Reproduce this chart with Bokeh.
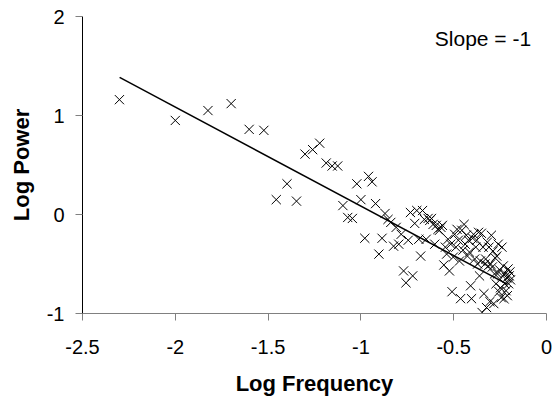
from bokeh.plotting import figure
from bokeh.models import FixedTicker, Range1d, Label, ColumnDataSource
from bokeh.embed import file_html
from bokeh.resources import INLINE

# Log frequency values of the spectrum points
log_freq = [
    -2.301, -2.000, -1.824, -1.699, -1.602, -1.523, -1.456, -1.398, -1.347, -1.301,
    -1.260, -1.222, -1.187, -1.155, -1.125, -1.097, -1.071, -1.046, -1.022, -1.000,
    -0.979, -0.959, -0.940, -0.921, -0.903, -0.886, -0.870, -0.854, -0.839, -0.824,
    -0.810, -0.796, -0.783, -0.770, -0.757, -0.745, -0.733, -0.721, -0.710, -0.699,
    -0.688, -0.678, -0.668, -0.658, -0.648, -0.638, -0.629, -0.620, -0.611, -0.602,
    -0.594, -0.585, -0.577, -0.569, -0.561, -0.553, -0.545, -0.538, -0.530, -0.523,
    -0.516, -0.509, -0.502, -0.495, -0.488, -0.482, -0.475, -0.469, -0.463, -0.456,
    -0.450, -0.444, -0.438, -0.432, -0.426, -0.420, -0.415, -0.409, -0.404, -0.398,
    -0.393, -0.387, -0.381, -0.376, -0.371, -0.366, -0.361, -0.356, -0.351, -0.347,
    -0.342, -0.337, -0.332, -0.328, -0.323, -0.319, -0.314, -0.310, -0.305, -0.301,
    -0.297, -0.292, -0.288, -0.284, -0.280, -0.276, -0.272, -0.268, -0.264, -0.260,
    -0.256, -0.252, -0.248, -0.244, -0.240, -0.237, -0.233, -0.229, -0.225, -0.222,
    -0.218, -0.214, -0.211, -0.207, -0.204, -0.201, -0.197, -0.194,
]

# Log power values
log_power = [
    1.16, 0.95, 1.05, 1.12, 0.86, 0.85, 0.15, 0.31, 0.135, 0.61,
    0.655, 0.72, 0.52, 0.49, 0.49, 0.09, -0.03, -0.04, 0.31, 0.15,
    -0.24, 0.385, 0.33, 0.11, -0.40, -0.24, 0.01, -0.05, -0.08, -0.32,
    -0.13, -0.30, -0.20, -0.57, -0.69, -0.26, 0.02, -0.62, -0.09, 0.04,
    -0.25, -0.42, 0.04, -0.05, -0.25, -0.04, -0.06, -0.04, -0.10, -0.30,
    -0.11, -0.15, -0.16, -0.13, -0.11, -0.51, -0.33, -0.40, -0.25, -0.57,
    -0.30, -0.78, -0.43, -0.20, -0.33, -0.15, -0.26, -0.47, -0.85, -0.16,
    -0.36, -0.10, -0.30, -0.21, -0.42, -0.26, -0.38, -0.72, -0.85, -0.24,
    -0.20, -0.45, -0.33, -0.26, -0.50, -0.18, -0.62, -0.47, -0.19, -0.99,
    -0.33, -0.80, -0.50, -0.45, -0.94, -0.28, -0.52, -0.33, -0.88, -0.50,
    -0.21, -0.53, -0.37, -0.90, -0.60, -0.44, -0.70, -0.42, -0.60, -0.30,
    -0.78, -0.56, -0.74, -0.84, -0.33, -0.62, -0.52, -0.85, -0.70, -0.60,
    -0.77, -0.64, -0.82, -0.55, -0.70, -0.62, -0.58, -0.66,
]

# Fitted line (slope -1)
fit_x = [-2.30, -0.21]
fit_y = [1.385, -0.705]

x_ticks = [-2.5, -2.0, -1.5, -1.0, -0.5, 0.0]
x_tick_labels = ["-2.5", "-2", "-1.5", "-1", "-0.5", "0"]
y_ticks = [-1, 0, 1, 2]
y_tick_labels = ["-1", "0", "1", "2"]

annotation = "Slope = -1"

FONT = "Liberation Sans"

p = figure(width=556, height=402, output_backend="svg", toolbar_location=None,
           x_range=Range1d(-2.5, 0), y_range=Range1d(-1, 2),
           min_border_left=82, min_border_right=10, min_border_top=16,
           min_border_bottom=89)
p.outline_line_color = None
p.xgrid.visible = False
p.ygrid.visible = False
p.background_fill_color = "white"
p.border_fill_color = "white"

src = ColumnDataSource(dict(x=log_freq, y=log_power))
p.scatter("x", "y", source=src, marker="x", size=13, line_color="black", line_width=1)
p.line(fit_x, fit_y, line_color="black", line_width=1.5)

for ax, ticks, labels in ((p.xaxis[0], x_ticks, x_tick_labels), (p.yaxis[0], y_ticks, y_tick_labels)):
    ax.ticker = FixedTicker(ticks=ticks)
    ax.major_label_overrides = {t: l for t, l in zip(ticks, labels)}
    ax.minor_tick_line_color = None
    ax.major_tick_line_color = "#808080"
    ax.major_tick_out = 7
    ax.major_tick_in = 0
    ax.major_label_text_font = FONT
    ax.major_label_text_font_size = "20px"
    ax.major_label_text_color = "black"
    ax.axis_label_text_font = FONT
    ax.axis_label_text_font_size = "22px"
    ax.axis_label_text_font_style = "bold"
    ax.axis_label_text_color = "black"

p.xaxis.axis_label = "Log Frequency"
p.yaxis.axis_label = "Log Power"
p.xaxis.axis_line_color = "#808080"
p.yaxis.axis_line_color = "black"
p.xaxis.major_label_standoff = 19
p.xaxis.axis_label_standoff = 14
p.yaxis.major_label_standoff = 11
p.yaxis.axis_label_standoff = 10

p.add_layout(Label(x=-0.083, y=1.78, text=annotation, text_align="right",
                   text_baseline="alphabetic", text_font=FONT,
                   text_font_size="21px", text_color="black"))

open("out.html", "w").write(file_html(p, INLINE))
